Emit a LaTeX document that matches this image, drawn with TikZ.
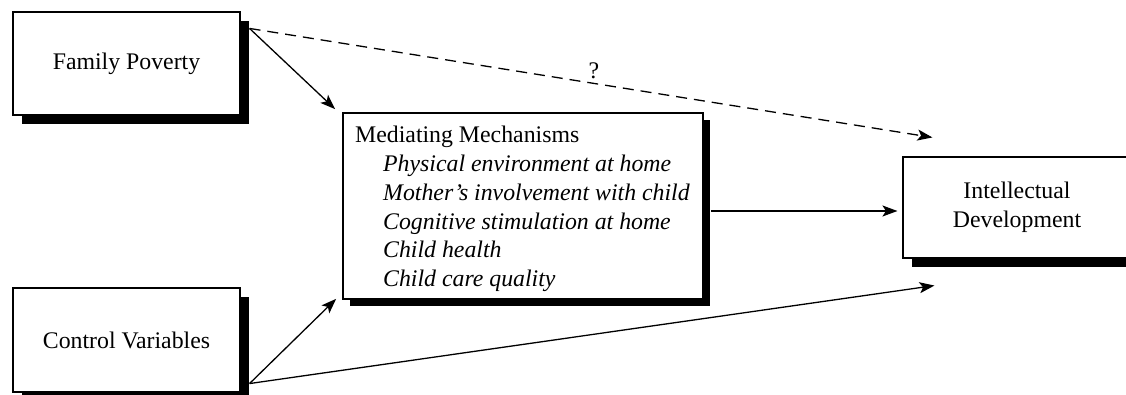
\documentclass[tikz,border=0pt]{standalone}
\usepackage{fontspec}
\setmainfont{Liberation Serif}
\usetikzlibrary{shadows,arrows.meta}
\begin{document}
\begin{tikzpicture}[x=1pt,y=-1pt,
  every node/.style={font=\fontsize{23.8}{29}\selectfont},
  box/.style={draw=black, line width=1.1pt, fill=white, inner sep=0pt,
    drop shadow={shadow xshift=9pt, shadow yshift=-9pt, fill=black, opacity=1}},
  medbox/.style={draw=black, line width=1.7pt, fill=white, inner sep=0pt,
    drop shadow={shadow xshift=7pt, shadow yshift=-7pt, fill=black, opacity=1}},
  line/.style={line width=1.3pt},
  arr/.style={line, -{Stealth[length=15pt,width=11pt,inset=3.5pt]}},
  dasharr/.style={line, dash pattern=on 11pt off 7pt, -{Stealth[length=15pt,width=11pt,inset=3.5pt,sep=0pt]}},
  txt/.style={inner sep=0pt, anchor=base west}
]
\useasboundingbox (0,0) rectangle (1126,395);
\node[box, minimum width=227pt, minimum height=103pt] (fp) at (126.5,63.5) {Family Poverty};
\node[box, minimum width=227pt, minimum height=104pt] (cv) at (126.5,340) {Control Variables};
\node[medbox, minimum width=360pt, minimum height=186pt] (med) at (523,206) {};
\node[box, minimum width=228pt, minimum height=101pt, align=center] (int) at (1017,207.5) {Intellectual\\Development};

\node[txt] (m0) at (355,143) {Mediating Mechanisms};
\node[txt] (m1) at (383,171.7) {\itshape Physical environment at home};
\node[txt] (m2) at (383,200.4) {\itshape Mother's involvement with child};
\node[txt] (m3) at (383,229.1) {\itshape Cognitive stimulation at home};
\node[txt] (m4) at (383,257.8) {\itshape Child health};
\node[txt] (m5) at (383,286.5) {\itshape Child care quality};

\coordinate (fpo) at ([shift={(9pt,-17pt)}]fp.north east);
\coordinate (cvo) at ([shift={(9pt,9pt)}]cv.south east);
\coordinate (hs) at ([shift={(7pt,-5pt)}]med.east);

\draw[arr] (fpo) -- ([shift={(-7pt,3pt)}]med.north west);
\draw[dasharr] (fpo) -- ([shift={(30pt,19pt)}]int.north west)
  node[pos=0.5, above, inner sep=3pt, xshift=3pt] (q) {?};
\draw[arr] (cvo) -- ([shift={(-6pt,1pt)}]med.south west);
\draw[arr] (cvo) -- ([shift={(32pt,-27pt)}]int.south west);
\draw[arr, shorten >=5pt] (hs) -- (hs -| int.west);
\end{tikzpicture}
\end{document}
